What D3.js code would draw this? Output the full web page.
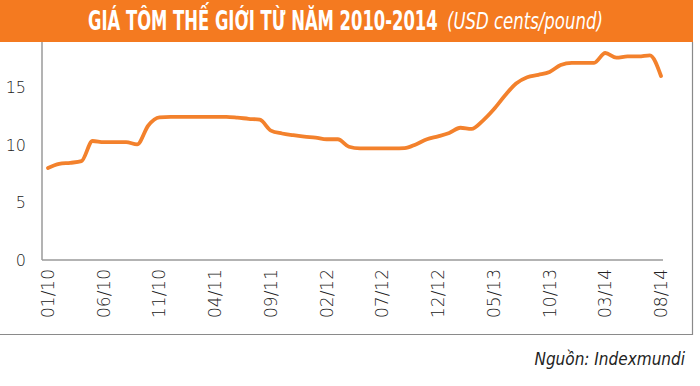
<!DOCTYPE html>
<html>
<head>
<meta charset="utf-8">
<script src="https://cdn.jsdelivr.net/npm/d3@7"></script>
<style>
  body { margin: 0; background: #fff; }
  .tick-text { font-family: 'DejaVu Sans', sans-serif; font-weight: 200; font-size: 16px; fill: #222; }
  .x-label { font-size: 17px; }
</style>
</head>
<body>
<script>
var tickLabels = ['01/10', '06/10', '11/10', '04/11', '09/11', '02/12',
  '07/12', '12/12', '05/13', '10/13', '03/14', '08/14'];
var yTicks = [0, 5, 10, 15];

// monthly price, 01/2010 .. 08/2014
var prices = [
  8.0, 8.35, 8.45, 8.6, 10.35, 10.25, 10.25, 10.25, 10.05, 11.7, 12.4, 12.45,
  12.45, 12.45, 12.45, 12.45, 12.45, 12.38, 12.28, 12.2, 11.25, 11.0, 10.85, 10.72,
  10.65, 10.5, 10.5, 9.85, 9.7, 9.7, 9.7, 9.7, 9.72, 10.05, 10.5, 10.75,
  11.05, 11.5, 11.4, 12.1, 13.1, 14.3, 15.35, 15.9, 16.1, 16.35, 16.95, 17.15,
  17.15, 17.15, 18.0, 17.6, 17.7, 17.7, 17.8, 16.0
];

var width = 700;
var height = 386;
var orange = '#F47A20';
var narrow = "'Liberation Sans Narrow', 'DejaVu Sans Condensed', sans-serif";

var svg = d3.select('body').append('svg')
  .attr('width', width)
  .attr('height', height);

// frame
svg.append('path')
  .attr('d', 'M0,334.5 H692.5 V42')
  .attr('fill', 'none')
  .attr('stroke', '#8a8a8a')
  .attr('stroke-width', 1.2);

// header band
svg.append('rect')
  .attr('x', 0).attr('y', 0)
  .attr('width', 693).attr('height', 42)
  .attr('fill', orange);

// squeeze a text horizontally so it spans the given width
function fitText(x0, y0, w, str, size, weight, style) {
  var g = svg.append('g');
  var t = g.append('text')
    .style('font-family', narrow)
    .style('font-weight', weight)
    .style('font-style', style)
    .style('font-size', size + 'px')
    .attr('fill', '#fff')
    .text(str);
  var sx = w / t.node().getComputedTextLength();
  g.attr('transform', 'translate(' + x0 + ',' + y0 + ') scale(' + sx + ',1)');
}

fitText(88, 30, 350, 'GIÁ TÔM THẾ GIỚI TỪ NĂM 2010-2014', 26, 'bold', 'normal');
fitText(447, 29, 156, '(USD cents/pound)', 23, 'normal', 'italic');

var x = d3.scaleLinear()
  .domain([0, prices.length - 1])
  .range([48, 661]);

var y = d3.scaleLinear()
  .domain([0, 19])
  .range([260, 41.5]);

// axes lines
svg.append('line')
  .attr('x1', 42).attr('x2', 42)
  .attr('y1', 42).attr('y2', 260)
  .attr('stroke', '#9a9a9a').attr('stroke-width', 1.5);
svg.append('line')
  .attr('x1', 42).attr('x2', 663)
  .attr('y1', 260).attr('y2', 260)
  .attr('stroke', '#9a9a9a').attr('stroke-width', 1.5);

svg.selectAll('.y-label')
  .data(yTicks)
  .enter().append('text')
    .attr('class', 'tick-text y-label')
    .attr('x', 26)
    .attr('y', function(d) { return y(d); })
    .attr('dy', '0.36em')
    .attr('text-anchor', 'end')
    .text(function(d) { return d; });

svg.selectAll('.x-label')
  .data(tickLabels)
  .enter().append('text')
    .attr('class', 'tick-text x-label')
    .attr('text-anchor', 'end')
    .attr('dominant-baseline', 'central')
    .attr('transform', function(d, i) {
      return 'translate(' + x(i * 5) + ',269) rotate(-90)';
    })
    .text(function(d) { return d; });

var line = d3.line()
  .x(function(d, i) { return x(i); })
  .y(function(d) { return y(d); })
  .curve(d3.curveMonotoneX);

svg.append('path')
  .datum(prices)
  .attr('d', line)
  .attr('fill', 'none')
  .attr('stroke', '#F3812C')
  .attr('stroke-width', 3.8)
  .attr('stroke-linejoin', 'round')
  .attr('stroke-linecap', 'round');

svg.append('text')
  .attr('x', 685).attr('y', 365)
  .attr('text-anchor', 'end')
  .style('font-family', narrow)
  .style('font-style', 'italic')
  .style('font-size', '17px')
  .attr('fill', '#222')
  .text('Nguồn: Indexmundi');
</script>
</body>
</html>
